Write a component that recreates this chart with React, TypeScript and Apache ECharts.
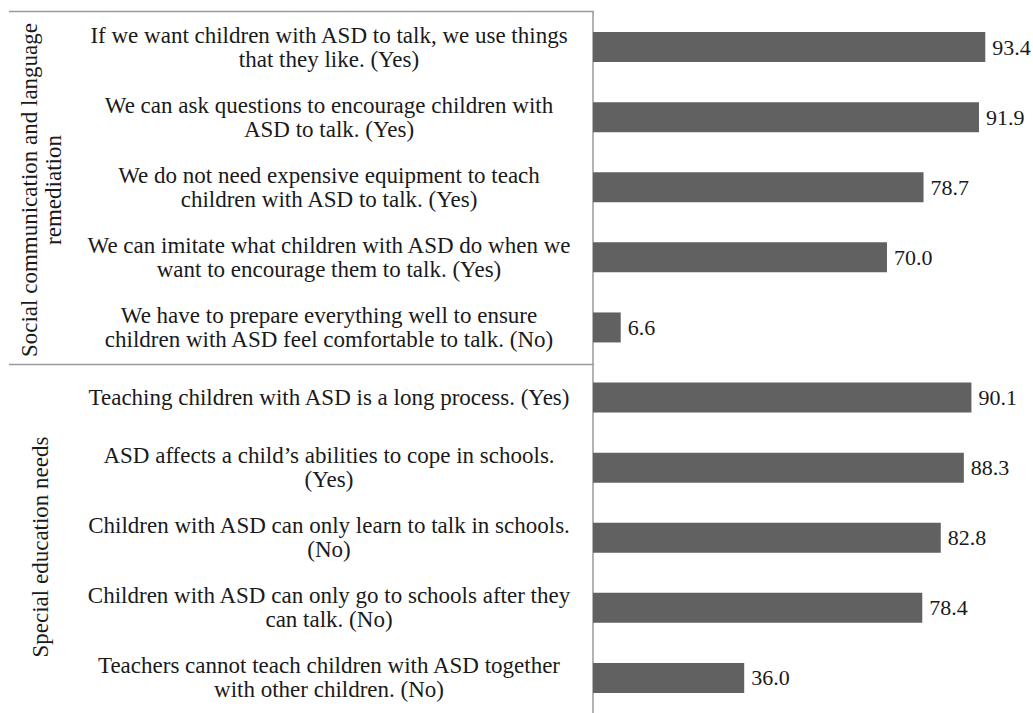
import React, { useEffect, useRef } from "react";
import * as echarts from "echarts";

const categories: string[] = [
  "If we want children with ASD to talk, we use things\nthat they like. (Yes)",
  "We can ask questions to encourage children with\nASD to talk. (Yes)",
  "We do not need expensive equipment to teach\nchildren with ASD to talk. (Yes)",
  "We can imitate what children with ASD do when we\nwant to encourage them to talk. (Yes)",
  "We have to prepare everything well to ensure\nchildren with ASD feel comfortable to talk. (No)",
  "Teaching children with ASD is a long process. (Yes)",
  "ASD affects a child\u2019s abilities to cope in schools.\n(Yes)",
  "Children with ASD can only learn to talk in schools.\n(No)",
  "Children with ASD can only go to schools after they\ncan talk. (No)",
  "Teachers cannot teach children with ASD together\nwith other children. (No)",
];

const values: number[] = [93.4, 91.9, 78.7, 70.0, 6.6, 90.1, 88.3, 82.8, 78.4, 36.0];

const groupLabels: string[] = [
  "Social communication and language\nremediation",
  "Special education needs",
];

const FONT = "'Liberation Serif', 'Times New Roman', serif";

export default function App() {
  const ref = useRef<HTMLDivElement>(null);
  useEffect(() => {
    document.body.style.margin = "0";
    if (!ref.current) return;
    const chart = echarts.init(ref.current, undefined, { renderer: "svg" });
    chart.setOption({
      animation: false,
      backgroundColor: "#ffffff",
      grid: { left: 593, top: 12, width: 420, height: 705, containLabel: false },
      xAxis: {
        type: "value",
        min: 0,
        max: 100,
        show: false,
      },
      yAxis: {
        type: "category",
        data: categories,
        inverse: true,
        axisLine: { show: true, lineStyle: { color: "#9a9a9a", width: 1.5 } },
        axisTick: { show: false },
        splitLine: { show: false },
        axisLabel: {
          align: "center",
          margin: 264,
          fontFamily: FONT,
          fontSize: 23,
          lineHeight: 24,
          color: "#1a1a1a",
          interval: 0,
        },
      },
      series: [
        {
          type: "bar",
          data: values,
          barWidth: 30,
          itemStyle: { color: "#616161" },
          label: {
            show: true,
            position: "right",
            distance: 7,
            formatter: (p: any) => Number(p.value).toFixed(1),
            fontFamily: FONT,
            fontSize: 22,
            color: "#1a1a1a",
          },
        },
      ],
      graphic: [
        {
          type: "line",
          shape: { x1: 9, y1: 11.5, x2: 594, y2: 11.5 },
          style: { stroke: "#9a9a9a", lineWidth: 1.5 },
        },
        {
          type: "line",
          shape: { x1: 9, y1: 364.5, x2: 594, y2: 364.5 },
          style: { stroke: "#9a9a9a", lineWidth: 1.5 },
        },
        {
          type: "text",
          x: 41,
          y: 190,
          rotation: Math.PI / 2,
          style: {
            text: groupLabels[0],
            fontFamily: FONT,
            fontSize: 23,
            lineHeight: 24,
            fill: "#1a1a1a",
            align: "center",
            verticalAlign: "middle",
          },
        },
        {
          type: "text",
          x: 40,
          y: 547,
          rotation: Math.PI / 2,
          style: {
            text: groupLabels[1],
            fontFamily: FONT,
            fontSize: 23,
            fill: "#1a1a1a",
            align: "center",
            verticalAlign: "middle",
          },
        },
      ],
    });
    return () => chart.dispose();
  }, []);
  return <div ref={ref} style={{ width: 1033, height: 713 }} />;
}
